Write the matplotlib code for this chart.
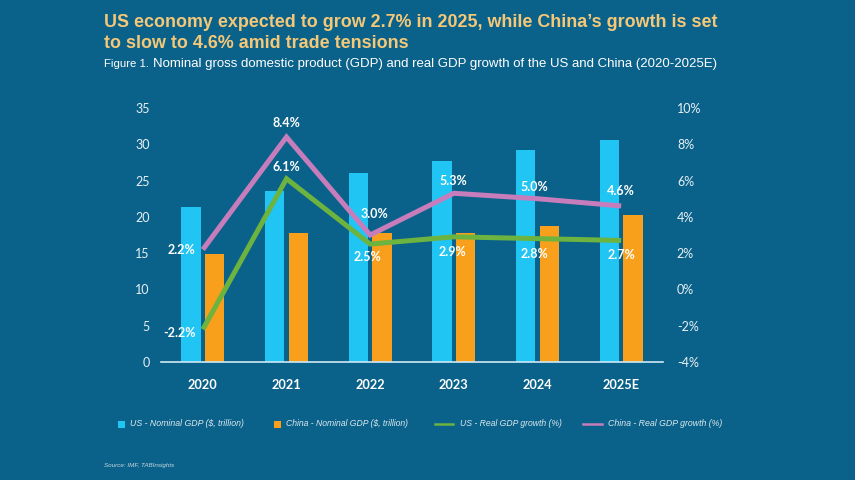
import matplotlib
matplotlib.use('Agg')
import matplotlib.pyplot as plt
from matplotlib import font_manager
from matplotlib.patches import Rectangle
from matplotlib.lines import Line2D
import numpy as np

# ---------------- data ----------------
years = ['2020', '2021', '2022', '2023', '2024', '2025E']
us_gdp = [21.4, 23.6, 26.0, 27.7, 29.2, 30.6]          # $ trillion
china_gdp = [14.9, 17.8, 17.8, 17.8, 18.8, 20.2]       # $ trillion
us_growth = [-2.2, 6.1, 2.5, 2.9, 2.8, 2.7]            # %
china_growth = [2.2, 8.4, 3.0, 5.3, 5.0, 4.6]          # %
left_ticks = [0, 5, 10, 15, 20, 25, 30, 35]
right_ticks = [-4, -2, 0, 2, 4, 6, 8, 10]
legend_labels = ['US - Nominal GDP ($, trillion)', 'China - Nominal GDP ($, trillion)',
                 'US - Real GDP growth (%)', 'China - Real GDP growth (%)']
title_lines = ['US economy expected to grow 2.7% in 2025, while China\u2019s growth is set',
               'to slow to 4.6% amid trade tensions']
subtitle_prefix = 'Figure 1.'
subtitle = 'Nominal gross domestic product (GDP) and real GDP growth of the US and China (2020-2025E)'
source = 'Source: IMF, TABInsights'

# ---------------- style ----------------
BG = '#0a628a'
C_US = '#20c5f3'
C_CN = '#f8a01c'
C_USL = '#6db33f'
C_CNL = '#c77dbb'
TITLE_C = '#f5c878'
W, H = 855, 480

names = {f.name for f in font_manager.fontManager.ttflist}
NARROW = 'Liberation Sans Narrow' if 'Liberation Sans Narrow' in names else 'Liberation Sans'

fig = plt.figure(figsize=(W / 100, H / 100), dpi=100, facecolor=BG)

def fx(x):
    return x / W

def fy(y):
    return 1 - y / H

ax = fig.add_axes([fx(161), fy(362), (663 - 161) / W, (362 - 108) / H])
ax.set_facecolor(BG)
x = np.arange(len(years))
bw = 0.23
ax.bar(x - 0.14, us_gdp, width=bw, color=C_US, zorder=2)
ax.bar(x + 0.14, china_gdp, width=bw, color=C_CN, zorder=2)
ax.set_xlim(-0.5, 5.5)
ax.set_ylim(0, 35)
ax.set_yticks(left_ticks)
ax.set_xticks(x)
ax.set_xticklabels(years, fontfamily='Lato', fontweight='bold', fontsize=9.2, color='white')
for s in ['top', 'right', 'left']:
    ax.spines[s].set_visible(False)
ax.spines['bottom'].set_color('#cfe9f5')
ax.spines['bottom'].set_linewidth(1.2)
ax.tick_params(axis='both', length=0)
ax.tick_params(axis='x', pad=12)
ax.tick_params(axis='y', pad=8)
for t in ax.get_yticklabels():
    t.set_fontfamily('Lato'); t.set_fontsize(9); t.set_color('#e8f0f4')

ax2 = ax.twinx()
ax2.set_ylim(-4, 10)
ax2.set_yticks(right_ticks)
ax2.set_yticklabels([f'{v}%' for v in right_ticks])
for s in ax2.spines.values():
    s.set_visible(False)
ax2.tick_params(axis='y', length=0, pad=10)
for t in ax2.get_yticklabels():
    t.set_fontfamily('Lato'); t.set_fontsize(9); t.set_color('#e8f0f4')

ax2.plot(x, china_growth, color=C_CNL, lw=3.6, solid_joinstyle='miter', solid_capstyle='butt', zorder=3)
ax2.plot(x, us_growth, color=C_USL, lw=3.6, solid_joinstyle='miter', solid_capstyle='butt', zorder=4)

# label offsets in pixels (dx, dy up)
cn_off = [(-21, 0), (0, 14), (4, 21), (0, 12), (-3, 12), (0, 15)]
us_off = [(-23, -4), (0, 12), (-3, -13), (-1, -15), (-3, -15), (0, -15)]
for xi, v, (dx, dy) in zip(x, china_growth, cn_off):
    ax2.annotate(f'{v:.1f}%', (xi, v), xytext=(dx * 0.72, dy * 0.72), textcoords='offset points',
                 ha='center', va='center', fontfamily='Lato', fontweight='bold', fontsize=9,
                 color='white', zorder=5)
for xi, v, (dx, dy) in zip(x, us_growth, us_off):
    ax2.annotate(f'{v:.1f}%', (xi, v), xytext=(dx * 0.72, dy * 0.72), textcoords='offset points',
                 ha='center', va='center', fontfamily='Lato', fontweight='bold', fontsize=9,
                 color='white', zorder=5)

renderer = fig.canvas.get_renderer()

def fit(t, target):
    bb = t.get_window_extent(renderer)
    t.set_fontsize(t.get_fontsize() * target / bb.width)

# ---------------- title ----------------
t1 = fig.text(fx(104), fy(27), title_lines[0], fontfamily='Liberation Sans', fontweight='bold',
              fontsize=12.5, color=TITLE_C, va='baseline', ha='left')
fit(t1, 614)
t2 = fig.text(fx(104), fy(48), title_lines[1], fontfamily='Liberation Sans', fontweight='bold',
              fontsize=t1.get_fontsize(), color=TITLE_C, va='baseline', ha='left')
s0 = fig.text(fx(104), fy(67), subtitle_prefix, fontfamily=NARROW, fontsize=7.5, color='white',
              va='baseline', ha='left')
fit(s0, 45)
s1 = fig.text(fx(153), fy(67), subtitle, fontfamily=NARROW, fontsize=10, color='white',
              va='baseline', ha='left')
fit(s1, 569)

# ---------------- legend ----------------
LY = 424
fig.patches.append(Rectangle((fx(117.5), fy(427.5)), 7 / W, 7 / H, transform=fig.transFigure,
                             facecolor=C_US, edgecolor='none'))
fig.patches.append(Rectangle((fx(273.5), fy(427.5)), 7 / W, 7 / H, transform=fig.transFigure,
                             facecolor=C_CN, edgecolor='none'))
fig.lines.append(Line2D([fx(435), fx(453)], [fy(LY), fy(LY)], transform=fig.transFigure,
                        color=C_USL, lw=1.8))
fig.lines.append(Line2D([fx(583), fx(602)], [fy(LY), fy(LY)], transform=fig.transFigure,
                        color=C_CNL, lw=1.8))
for lbl, x0, wd in zip(legend_labels, [130, 286, 460, 608], [115, 123, 103, 115]):
    tt = fig.text(fx(x0), fy(LY), lbl, fontfamily=NARROW, fontstyle='italic', fontsize=7,
                  color='#dce8ee', va='center', ha='left')
    fit(tt, wd)

src = fig.text(fx(104), fy(465), source, fontfamily=NARROW, fontstyle='italic', fontsize=5,
               color='#c9d8e0', va='center', ha='left')
fit(src, 71)

fig.savefig('out.png', dpi=100, facecolor=BG)
